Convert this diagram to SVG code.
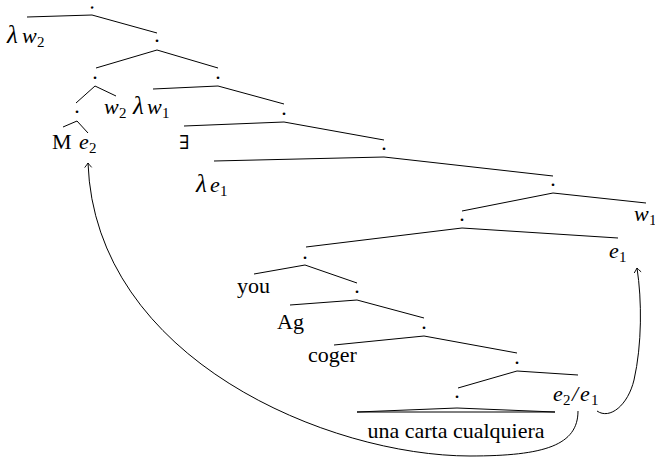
<svg xmlns="http://www.w3.org/2000/svg" width="655" height="458" viewBox="0 0 655 458">
<defs>
<style>
.t{font-family:"Liberation Serif","DejaVu Serif",serif;font-size:22px;fill:#000}
.i{font-style:italic}
.s{font-size:15px;font-style:normal}
.l{font-size:25px}
.d{font-family:"Liberation Serif",serif;font-size:22px;fill:#000;text-anchor:middle}
.e{stroke:#000;stroke-width:1;fill:none}
.x{font-family:"DejaVu Serif","DejaVu Sans",serif;font-size:19px;fill:#000}
</style>
<marker id="ah" viewBox="-6 -5 8 10" markerWidth="8" markerHeight="10" refX="0" refY="0" orient="auto" markerUnits="userSpaceOnUse">
<path d="M-4.5,-3.5 Q-1.5,-1 0,0 Q-1.5,1 -4.5,3.5" fill="none" stroke="#000" stroke-width="0.9"/>
</marker>
</defs>
<rect width="655" height="458" fill="#fff"/>
<g id="connectors">
<path class="e" d="M92,15 L27,17 M92,15 L157,33"/>
<path class="e" d="M157,50 L96,68 M157,50 L218,68"/>
<path class="e" d="M95,86 L76,103 M95,86 L116,96"/>
<path class="e" d="M218,86 L153,89 M218,86 L284,104"/>
<path class="e" d="M77,121 L63,127 M77,121 L88,133"/>
<path class="e" d="M284,122 L184,126 M284,122 L384,140"/>
<path class="e" d="M384,157 L214,161 M384,157 L553,176"/>
<path class="e" d="M553,193 L462,211 M553,193 L646,203"/>
<path class="e" d="M462,228 L306,247 M462,228 L618,238"/>
<path class="e" d="M305,265 L254,274 M305,265 L357,283"/>
<path class="e" d="M357,300 L290,305 M357,300 L424,318"/>
<path class="e" d="M424,336 L334,345 M424,336 L517,353"/>
<path class="e" d="M517,371 L458,388 M517,371 L578,375"/>
<path class="e" d="M457,408 L357,412 L555,412 Z"/>
<path class="e" d="M578,411 C578,445 545,456 470,456 C330,456 95,360 88,163" marker-end="url(#ah)"/>
<path class="e" d="M597,411 C610,420 628,405 634,380 C642,345 642,300 637,268" marker-end="url(#ah)"/>
</g>
<g id="n0"><text x="92" y="8" font-family="Liberation Serif,serif" font-size="9" text-anchor="middle" fill="#000" stroke="#000" stroke-width="1.4">.</text></g>
<g id="n1"><text class="t i" x="7" y="43"><tspan class="l">λ</tspan><tspan x="22">w</tspan><tspan class="s" x="37" y="47">2</tspan></text></g>
<g id="n2"><text class="d" x="157" y="42">.</text></g>
<g id="n3"><text class="d" x="95" y="79">.</text></g>
<g id="n4"><text class="d" x="218" y="79">.</text></g>
<g id="n5"><text class="d" x="77" y="113">.</text></g>
<g id="n6"><text class="t i" x="104" y="114">w<tspan class="s" x="119" y="118">2</tspan></text></g>
<g id="n7"><text class="t" x="52" y="149">M<tspan class="i" x="79">e</tspan><tspan class="s" x="89" y="153">2</tspan></text></g>
<g id="n8"><text class="t i" x="133" y="114"><tspan class="l">λ</tspan><tspan x="147">w</tspan><tspan class="s" x="162" y="118">1</tspan></text></g>
<g id="n9"><text class="d" x="284" y="115">.</text></g>
<g id="n10"><text class="x" x="179" y="149">∃</text></g>
<g id="n11"><text class="d" x="384" y="150">.</text></g>
<g id="n12"><text class="t i" x="196" y="192"><tspan class="l">λ</tspan><tspan x="210">e</tspan><tspan class="s" x="220" y="196">1</tspan></text></g>
<g id="n13"><text class="d" x="553" y="186">.</text></g>
<g id="n14"><text class="d" x="462" y="221">.</text></g>
<g id="n15"><text class="t i" x="634" y="221">w<tspan class="s" x="649" y="225">1</tspan></text></g>
<g id="n16"><text class="d" x="305" y="259">.</text></g>
<g id="n17"><text class="t i" x="609" y="258">e<tspan class="s" x="619" y="262">1</tspan></text></g>
<g id="n18"><text class="t" x="237" y="293">you</text></g>
<g id="n19"><text class="d" x="357" y="293">.</text></g>
<g id="n20"><text class="t" x="277" y="329">Ag</text></g>
<g id="n21"><text class="d" x="424" y="329">.</text></g>
<g id="n22"><text class="t" x="308" y="362">coger</text></g>
<g id="n23"><text class="d" x="517" y="364">.</text></g>
<g id="n24"><text class="d" x="457" y="398">.</text></g>
<g id="n25"><text class="t i" x="553" y="401">e<tspan class="s" x="563" y="405">2</tspan><tspan x="572" y="401">/</tspan><tspan x="580">e</tspan><tspan class="s" x="591" y="405">1</tspan></text></g>
<g id="n26"><text class="t" x="456" y="438" text-anchor="middle">una carta cualquiera</text></g>
</svg>
